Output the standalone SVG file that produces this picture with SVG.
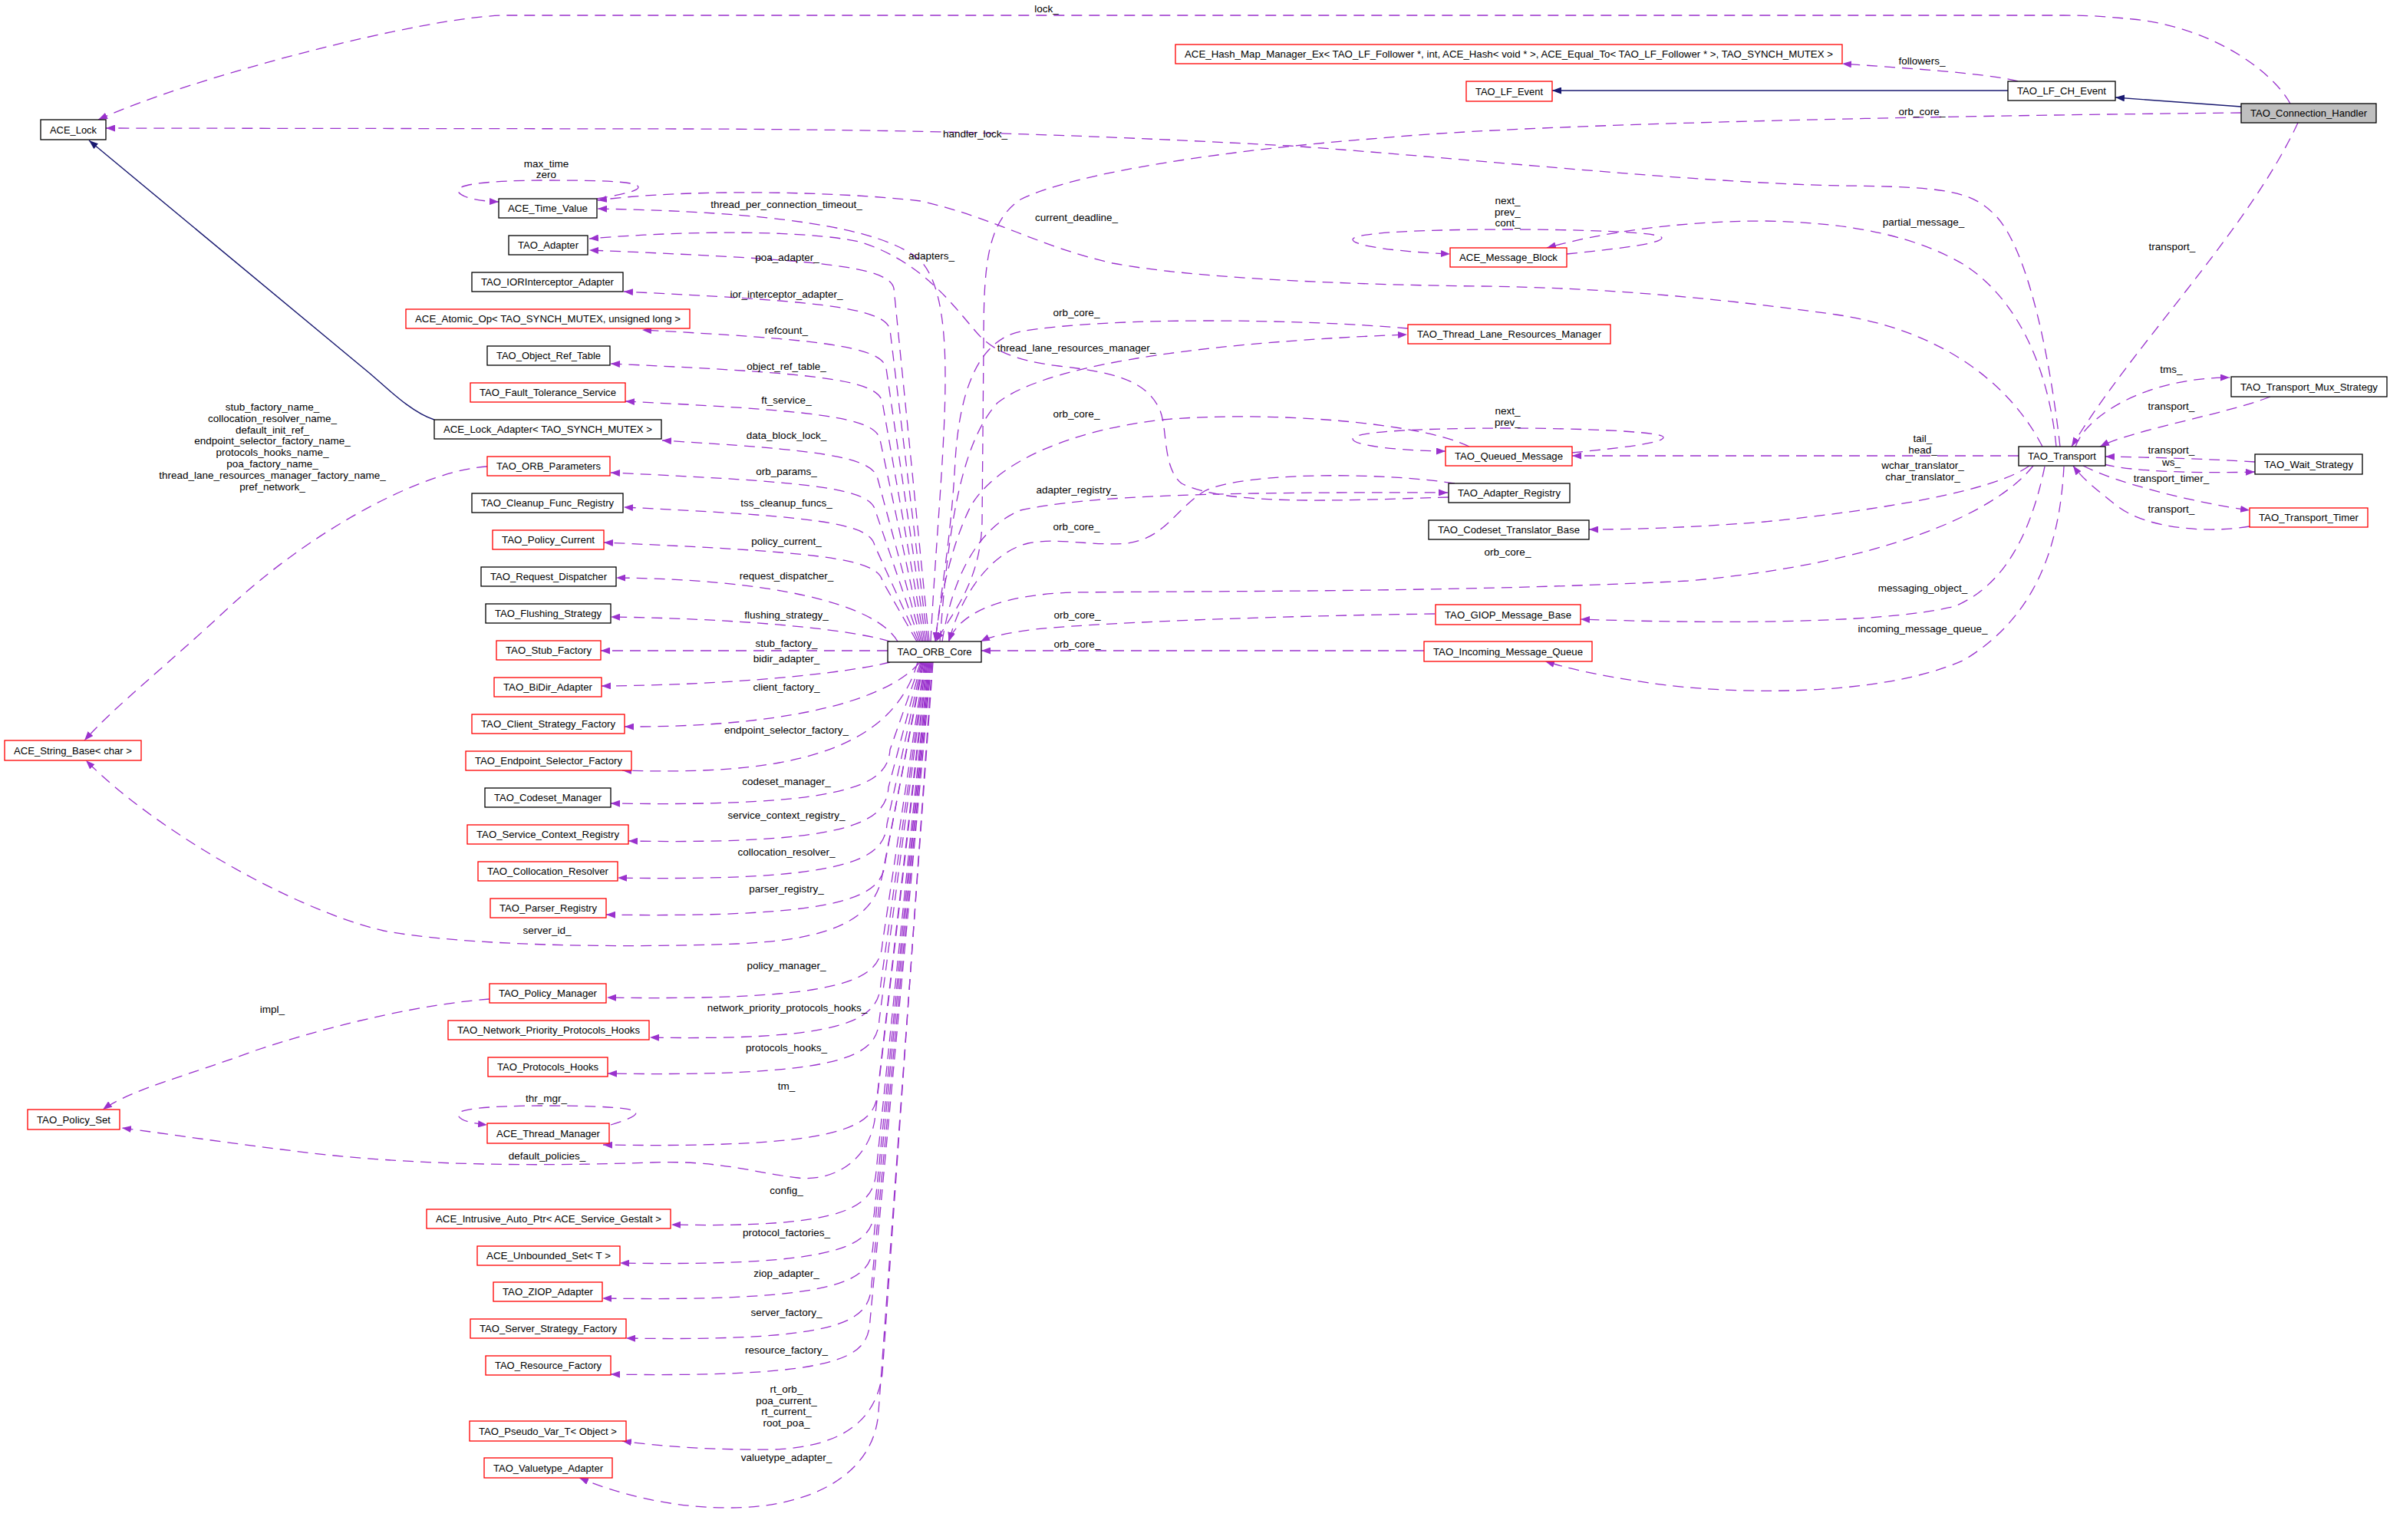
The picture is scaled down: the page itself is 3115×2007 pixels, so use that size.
<svg xmlns="http://www.w3.org/2000/svg" width="3115" height="2007" viewBox="0 0 3115 2007">
<style>
text{font-family:"Liberation Sans",Arial,sans-serif;font-size:13.5px;fill:#000}
.n rect{fill:#fff;stroke:#000;stroke-width:1.3}
.r rect{stroke:#f00}
.g rect{fill:#bfbfbf}
.n text,.l text{text-anchor:middle}
.e{fill:none;stroke:#9a32cd;stroke-width:1.3;stroke-dasharray:14,9;marker-end:url(#pa)}
.i{fill:none;stroke:#191970;stroke-width:1.4;marker-end:url(#ba)}
</style>
<defs>
<marker id="pa" viewBox="0 0 12 9" refX="12" refY="4.5" markerWidth="12" markerHeight="9" markerUnits="userSpaceOnUse" orient="auto"><path d="M0,0L12,4.5L0,9z" fill="#9a32cd"/></marker>
<marker id="ba" viewBox="0 0 12 9" refX="12" refY="4.5" markerWidth="12" markerHeight="9" markerUnits="userSpaceOnUse" orient="auto"><path d="M0,0L12,4.5L0,9z" fill="#191970"/></marker>
</defs>
<rect width="3115" height="2007" fill="#fff"/>
<g id="edges">
<path class="i" d="M2921,139 L2757,127"/>
<path class="i" d="M2617,118 L2023,118"/>
<path class="i" d="M566,547 C535,537 504,505 480,485 L116,183"/>
<path class="e" d="M2985,135 C2960,90 2880,35 2780,25 C2740,21 2720,20 2690,20 L660,20 C560,20 250,100 128,156"/>
<path class="e" d="M2630,106 C2590,95 2470,88 2401,83"/>
<path class="e" d="M2921,147 C2600,150 2000,160 1800,180 C1600,195 1400,225 1330,260 C1285,290 1282,350 1282,450 L1280,680 C1278,760 1240,800 1220,836"/>
<path class="e" d="M2995,160 C2930,300 2780,450 2700,582"/>
<path class="e" d="M2685,582 C2670,450 2640,320 2600,280 C2570,250 2540,243 2400,242 C2200,238 1900,205 1680,190 C1400,175 1200,169 900,168 L138,167"/>
<path class="e" d="M2662,582 C2620,500 2530,430 2393,410 C2250,390 2100,375 1929,373 C1750,371 1550,362 1450,343 C1350,320 1300,285 1200,262 C1100,250 900,245 779,261"/>
<path class="e" d="M2680,582 C2670,480 2630,390 2560,345 C2500,310 2420,290 2300,288 C2180,288 2080,305 2016,323"/>
<path class="e" d="M2631,594 L2049,594"/>
<path class="e" d="M2645,607 C2600,640 2450,665 2300,680 C2200,688 2120,690 2071,690"/>
<path class="e" d="M2650,607 C2600,670 2450,735 2200,757 C1900,772 1600,770 1400,772 C1300,775 1250,800 1236,836"/>
<path class="e" d="M2665,608 C2650,680 2620,760 2548,790 C2450,815 2200,812 2060,807"/>
<path class="e" d="M2690,608 C2685,700 2660,800 2560,860 C2450,910 2250,905 2150,890 C2080,880 2040,870 2014,862"/>
<path class="e" d="M2705,582 C2720,540 2800,492 2906,492"/>
<path class="e" d="M2959,517 C2900,540 2780,560 2737,582"/>
<path class="e" d="M2939,602 C2880,598 2800,596 2744,595"/>
<path class="e" d="M2742,605 C2780,615 2870,617 2939,615"/>
<path class="e" d="M2715,607 C2760,630 2860,655 2932,665"/>
<path class="e" d="M2932,686 C2880,695 2800,690 2760,660 C2735,640 2715,625 2702,607"/>
<path class="e" d="M1835,428 C1700,416 1450,412 1330,432 C1270,445 1250,520 1245,600 C1240,700 1225,780 1219,836"/>
<path class="e" d="M1225,836 C1235,700 1250,580 1300,525 C1370,470 1600,445 1834,436"/>
<path class="e" d="M1915,582 C1850,550 1650,535 1515,547 C1400,560 1300,600 1265,660 C1240,710 1225,780 1219,836"/>
<path class="e" d="M1228,836 C1240,760 1270,690 1330,665 C1420,645 1600,641 1887,642"/>
<path class="e" d="M1896,630 C1800,615 1620,615 1570,640 C1530,665 1520,700 1470,708 C1420,712 1380,700 1340,708 C1290,720 1250,780 1237,836"/>
<path class="e" d="M1888,648 C1750,652 1600,660 1540,630 C1515,610 1522,560 1512,535 C1495,495 1450,485 1380,477 C1320,470 1290,455 1270,430 C1240,395 1200,340 1120,315 C1050,300 900,300 768,311"/>
<path class="e" d="M1870,800 C1700,802 1450,810 1350,820 C1310,825 1290,830 1278,836"/>
<path class="e" d="M1856,848 L1279,848"/>
<path class="e" d="M778,259 C800,255 832,250 832,244 C832,236 780,235 712,235 C640,235 597,240 597,248 C597,256 620,262 650,263"/>
<path class="e" d="M2042,331 C2100,325 2166,318 2166,310 C2166,302 2050,299 1965,299 C1860,299 1763,303 1763,312 C1763,322 1840,329 1890,331"/>
<path class="e" d="M2049,590 C2100,585 2168,578 2168,570 C2168,562 2050,558 1965,558 C1860,558 1763,562 1763,572 C1763,582 1840,588 1884,588"/>
<path class="e" d="M796,1466 C815,1460 829,1455 829,1450 C829,1443 770,1441 712,1441 C640,1441 597,1445 597,1452 C597,1460 615,1464 635,1466"/>
<path class="e" d="M635,608 C560,612 420,680 300,790 C220,865 150,920 110,965"/>
<path class="e" d="M638,1302 C560,1308 450,1330 330,1370 C250,1400 170,1420 134,1446"/>
<path class="e" d="M1213,836 C1225,600 1255,400 1200,340 C1150,295 1000,276 779,272"/>
<path class="e" d="M1211,836 L1165,376 C1159,346 1060,338 768,326"/>
<path class="e" d="M1209,836 L1160,430 C1154,400 1060,392 813,380"/>
<path class="e" d="M1207,836 L1155,480 C1149,450 1060,442 837,430"/>
<path class="e" d="M1205,836 L1150,524 C1144,494 1060,486 796,474"/>
<path class="e" d="M1203,836 L1147,573 C1141,543 1060,535 815,523"/>
<path class="e" d="M1201,836 L1144,624 C1138,594 1060,586 863,574"/>
<path class="e" d="M1199,836 L1141,666 C1135,636 1060,628 796,616"/>
<path class="e" d="M1197,836 L1140,711 C1134,681 1060,673 813,661"/>
<path class="e" d="M1195,836 L1150,757 C1144,727 1060,719 787,707"/>
<path class="e" d="M1170,836 C1140,785 1000,755 803,753"/>
<path class="e" d="M1160,836 C1100,818 950,806 796,804"/>
<path class="e" d="M1157,848 L783,848"/>
<path class="e" d="M1160,863 C1100,878 950,893 784,894"/>
<path class="e" d="M1199,863 C1150,920 1000,948 814,947"/>
<path class="e" d="M1196,863 C1160,990 1000,1010 811,1004"/>
<path class="e" d="M1200,863 L1160,977 C1157,1022 1110,1052 796,1047"/>
<path class="e" d="M1201,863 L1158,1026 C1155,1071 1110,1101 819,1096"/>
<path class="e" d="M1202,863 L1156,1074 C1153,1119 1110,1149 805,1144"/>
<path class="e" d="M1203,863 L1154,1122 C1151,1167 1110,1197 790,1192"/>
<path class="e" d="M1204,863 L1150,1140 C1140,1200 1080,1225 960,1230 C800,1236 600,1232 500,1213 C380,1185 200,1080 112,991"/>
<path class="e" d="M1205,863 L1150,1230 C1147,1275 1110,1305 791,1300"/>
<path class="e" d="M1206,863 L1148,1282 C1145,1327 1110,1357 847,1352"/>
<path class="e" d="M1207,863 L1146,1329 C1143,1374 1110,1404 792,1399"/>
<path class="e" d="M1208,863 L1144,1422 C1141,1467 1110,1497 786,1492"/>
<path class="e" d="M1209,863 L1140,1460 C1132,1510 1090,1540 1040,1535 C980,1528 940,1512 850,1515 C650,1522 500,1515 383,1500 C300,1490 220,1478 159,1470"/>
<path class="e" d="M1210,863 L1142,1526 C1139,1571 1110,1601 875,1596"/>
<path class="e" d="M1211,863 L1140,1576 C1137,1621 1110,1651 808,1646"/>
<path class="e" d="M1212,863 L1138,1622 C1135,1667 1110,1697 785,1692"/>
<path class="e" d="M1213,863 L1136,1674 C1133,1719 1110,1749 816,1744"/>
<path class="e" d="M1214,863 L1134,1721 C1131,1766 1110,1796 796,1791"/>
<path class="e" d="M1215,863 L1150,1790 C1142,1850 1100,1885 1010,1889 C930,1890 860,1885 811,1878"/>
<path class="e" d="M1216,863 L1145,1840 C1140,1920 1060,1965 950,1965 C870,1965 800,1945 755,1926"/>
</g>
<g id="edge-labels" class="l">
<text x="1364" y="16">lock_</text>
<text x="2505" y="84">followers_</text>
<text x="2505" y="150">orb_core_</text>
<text x="1271" y="179">handler_lock_</text>
<text x="712" y="218">max_time</text>
<text x="712" y="232">zero</text>
<text x="1025" y="271">thread_per_connection_timeout_</text>
<text x="1403" y="288">current_deadline_</text>
<text x="2507" y="294">partial_message_</text>
<text x="1965" y="266">next_</text>
<text x="1965" y="281">prev_</text>
<text x="1965" y="295">cont_</text>
<text x="2831" y="326">transport_</text>
<text x="1026" y="340">poa_adapter_</text>
<text x="1214" y="338">adapters_</text>
<text x="1025" y="388">ior_interceptor_adapter_</text>
<text x="1403" y="412">orb_core_</text>
<text x="1025" y="435">refcount_</text>
<text x="1403" y="458">thread_lane_resources_manager_</text>
<text x="1025" y="482">object_ref_table_</text>
<text x="2830" y="486">tms_</text>
<text x="1025" y="526">ft_service_</text>
<text x="2830" y="534">transport_</text>
<text x="1965" y="540">next_</text>
<text x="1965" y="555">prev_</text>
<text x="1403" y="544">orb_core_</text>
<text x="1025" y="572">data_block_lock_</text>
<text x="2506" y="576">tail_</text>
<text x="2506" y="591">head_</text>
<text x="2830" y="591">transport_</text>
<text x="2830" y="607">ws_</text>
<text x="2506" y="611">wchar_translator_</text>
<text x="2506" y="626">char_translator_</text>
<text x="1025" y="619">orb_params_</text>
<text x="2830" y="628">transport_timer_</text>
<text x="1403" y="643">adapter_registry_</text>
<text x="1025" y="660">tss_cleanup_funcs_</text>
<text x="2830" y="668">transport_</text>
<text x="1403" y="691">orb_core_</text>
<text x="1025" y="710">policy_current_</text>
<text x="1965" y="724">orb_core_</text>
<text x="1025" y="755">request_dispatcher_</text>
<text x="2506" y="771">messaging_object_</text>
<text x="1404" y="806">orb_core_</text>
<text x="1025" y="806">flushing_strategy_</text>
<text x="2506" y="824">incoming_message_queue_</text>
<text x="1025" y="843">stub_factory_</text>
<text x="1404" y="844">orb_core_</text>
<text x="1025" y="863">bidir_adapter_</text>
<text x="1025" y="900">client_factory_</text>
<text x="1025" y="956">endpoint_selector_factory_</text>
<text x="1025" y="1023">codeset_manager_</text>
<text x="1025" y="1067">service_context_registry_</text>
<text x="1025" y="1115">collocation_resolver_</text>
<text x="1025" y="1163">parser_registry_</text>
<text x="713" y="1217">server_id_</text>
<text x="1025" y="1263">policy_manager_</text>
<text x="1026" y="1318">network_priority_protocols_hooks_</text>
<text x="355" y="1320">impl_</text>
<text x="1025" y="1370">protocols_hooks_</text>
<text x="1025" y="1420">tm_</text>
<text x="712" y="1436">thr_mgr_</text>
<text x="713" y="1511">default_policies_</text>
<text x="1025" y="1556">config_</text>
<text x="1025" y="1611">protocol_factories_</text>
<text x="1025" y="1664">ziop_adapter_</text>
<text x="1025" y="1715">server_factory_</text>
<text x="1025" y="1764">resource_factory_</text>
<text x="1025" y="1815">rt_orb_</text>
<text x="1025" y="1830">poa_current_</text>
<text x="1025" y="1844">rt_current_</text>
<text x="1025" y="1859">root_poa_</text>
<text x="1025" y="1904">valuetype_adapter_</text>
<text x="355" y="535">stub_factory_name_<tspan x="355" dy="14.8">collocation_resolver_name_</tspan><tspan x="355" dy="14.8">default_init_ref_</tspan><tspan x="355" dy="14.8">endpoint_selector_factory_name_</tspan><tspan x="355" dy="14.8">protocols_hooks_name_</tspan><tspan x="355" dy="14.8">poa_factory_name_</tspan><tspan x="355" dy="14.8">thread_lane_resources_manager_factory_name_</tspan><tspan x="355" dy="14.8">pref_network_</tspan></text>
</g>
<g id="TAO_Connection_Handler" class="n g"><rect x="2921" y="135" width="176" height="25"/><text x="3009" y="152" textLength="152" lengthAdjust="spacingAndGlyphs">TAO_Connection_Handler</text></g>
<g id="TAO_LF_CH_Event" class="n"><rect x="2617" y="106" width="140" height="25"/><text x="2687" y="123" textLength="116" lengthAdjust="spacingAndGlyphs">TAO_LF_CH_Event</text></g>
<g id="TAO_LF_Event" class="n r"><rect x="1911" y="106" width="112" height="26"/><text x="1967" y="123.5" textLength="88" lengthAdjust="spacingAndGlyphs">TAO_LF_Event</text></g>
<g id="ACE_Hash_Map_Manager_Ex" class="n r"><rect x="1532" y="58" width="869" height="25"/><text x="1966.5" y="75" textLength="845" lengthAdjust="spacingAndGlyphs">ACE_Hash_Map_Manager_Ex&lt; TAO_LF_Follower *, int, ACE_Hash&lt; void * &gt;, ACE_Equal_To&lt; TAO_LF_Follower * &gt;, TAO_SYNCH_MUTEX &gt;</text></g>
<g id="ACE_Lock" class="n"><rect x="53" y="156" width="85" height="26"/><text x="95.5" y="173.5" textLength="61" lengthAdjust="spacingAndGlyphs">ACE_Lock</text></g>
<g id="ACE_Time_Value" class="n"><rect x="650" y="259" width="128" height="25"/><text x="714" y="276" textLength="104" lengthAdjust="spacingAndGlyphs">ACE_Time_Value</text></g>
<g id="TAO_Adapter" class="n"><rect x="663" y="307" width="103" height="25"/><text x="714.5" y="324" textLength="79" lengthAdjust="spacingAndGlyphs">TAO_Adapter</text></g>
<g id="TAO_IORInterceptor_Adapter" class="n"><rect x="615" y="355" width="197" height="25"/><text x="713.5" y="372" textLength="173" lengthAdjust="spacingAndGlyphs">TAO_IORInterceptor_Adapter</text></g>
<g id="ACE_Atomic_Op" class="n r"><rect x="529" y="403" width="370" height="25"/><text x="714" y="420" textLength="346" lengthAdjust="spacingAndGlyphs">ACE_Atomic_Op&lt; TAO_SYNCH_MUTEX, unsigned long &gt;</text></g>
<g id="TAO_Object_Ref_Table" class="n"><rect x="635" y="451" width="160" height="25"/><text x="715" y="468" textLength="136" lengthAdjust="spacingAndGlyphs">TAO_Object_Ref_Table</text></g>
<g id="TAO_Fault_Tolerance_Service" class="n r"><rect x="613" y="499" width="202" height="25"/><text x="714" y="516" textLength="178" lengthAdjust="spacingAndGlyphs">TAO_Fault_Tolerance_Service</text></g>
<g id="ACE_Lock_Adapter" class="n"><rect x="566" y="547" width="296" height="25"/><text x="714" y="564" textLength="272" lengthAdjust="spacingAndGlyphs">ACE_Lock_Adapter&lt; TAO_SYNCH_MUTEX &gt;</text></g>
<g id="TAO_ORB_Parameters" class="n r"><rect x="635" y="595" width="160" height="25"/><text x="715" y="612" textLength="136" lengthAdjust="spacingAndGlyphs">TAO_ORB_Parameters</text></g>
<g id="TAO_Cleanup_Func_Registry" class="n"><rect x="615" y="643" width="197" height="25"/><text x="713.5" y="660" textLength="173" lengthAdjust="spacingAndGlyphs">TAO_Cleanup_Func_Registry</text></g>
<g id="TAO_Policy_Current" class="n r"><rect x="642" y="691" width="145" height="25"/><text x="714.5" y="708" textLength="121" lengthAdjust="spacingAndGlyphs">TAO_Policy_Current</text></g>
<g id="TAO_Request_Dispatcher" class="n"><rect x="627" y="739" width="176" height="25"/><text x="715" y="756" textLength="152" lengthAdjust="spacingAndGlyphs">TAO_Request_Dispatcher</text></g>
<g id="TAO_Flushing_Strategy" class="n"><rect x="633" y="787" width="163" height="25"/><text x="714.5" y="804" textLength="139" lengthAdjust="spacingAndGlyphs">TAO_Flushing_Strategy</text></g>
<g id="TAO_Stub_Factory" class="n r"><rect x="647" y="835" width="136" height="25"/><text x="715" y="852" textLength="112" lengthAdjust="spacingAndGlyphs">TAO_Stub_Factory</text></g>
<g id="TAO_BiDir_Adapter" class="n r"><rect x="644" y="883" width="140" height="25"/><text x="714" y="900" textLength="116" lengthAdjust="spacingAndGlyphs">TAO_BiDir_Adapter</text></g>
<g id="TAO_Client_Strategy_Factory" class="n r"><rect x="615" y="931" width="199" height="25"/><text x="714.5" y="948" textLength="175" lengthAdjust="spacingAndGlyphs">TAO_Client_Strategy_Factory</text></g>
<g id="TAO_Endpoint_Selector_Factory" class="n r"><rect x="607" y="979" width="216" height="25"/><text x="715" y="996" textLength="192" lengthAdjust="spacingAndGlyphs">TAO_Endpoint_Selector_Factory</text></g>
<g id="TAO_Codeset_Manager" class="n"><rect x="632" y="1027" width="164" height="25"/><text x="714" y="1044" textLength="140" lengthAdjust="spacingAndGlyphs">TAO_Codeset_Manager</text></g>
<g id="TAO_Service_Context_Registry" class="n r"><rect x="609" y="1075" width="210" height="25"/><text x="714" y="1092" textLength="186" lengthAdjust="spacingAndGlyphs">TAO_Service_Context_Registry</text></g>
<g id="TAO_Collocation_Resolver" class="n r"><rect x="623" y="1123" width="182" height="25"/><text x="714" y="1140" textLength="158" lengthAdjust="spacingAndGlyphs">TAO_Collocation_Resolver</text></g>
<g id="TAO_Parser_Registry" class="n r"><rect x="639" y="1171" width="151" height="25"/><text x="714.5" y="1188" textLength="127" lengthAdjust="spacingAndGlyphs">TAO_Parser_Registry</text></g>
<g id="TAO_Policy_Manager" class="n r"><rect x="638" y="1282" width="152" height="25"/><text x="714" y="1299" textLength="128" lengthAdjust="spacingAndGlyphs">TAO_Policy_Manager</text></g>
<g id="TAO_Network_Priority_Protocols_Hooks" class="n r"><rect x="584" y="1330" width="262" height="25"/><text x="715" y="1347" textLength="238" lengthAdjust="spacingAndGlyphs">TAO_Network_Priority_Protocols_Hooks</text></g>
<g id="TAO_Protocols_Hooks" class="n r"><rect x="636" y="1378" width="156" height="25"/><text x="714" y="1395" textLength="132" lengthAdjust="spacingAndGlyphs">TAO_Protocols_Hooks</text></g>
<g id="ACE_Thread_Manager" class="n r"><rect x="635" y="1464" width="159" height="26"/><text x="714.5" y="1481.5" textLength="135" lengthAdjust="spacingAndGlyphs">ACE_Thread_Manager</text></g>
<g id="ACE_Intrusive_Auto_Ptr" class="n r"><rect x="556" y="1576" width="318" height="25"/><text x="715" y="1593" textLength="294" lengthAdjust="spacingAndGlyphs">ACE_Intrusive_Auto_Ptr&lt; ACE_Service_Gestalt &gt;</text></g>
<g id="ACE_Unbounded_Set" class="n r"><rect x="622" y="1624" width="186" height="25"/><text x="715" y="1641" textLength="162" lengthAdjust="spacingAndGlyphs">ACE_Unbounded_Set&lt; T &gt;</text></g>
<g id="TAO_ZIOP_Adapter" class="n r"><rect x="643" y="1671" width="142" height="25"/><text x="714" y="1688" textLength="118" lengthAdjust="spacingAndGlyphs">TAO_ZIOP_Adapter</text></g>
<g id="TAO_Server_Strategy_Factory" class="n r"><rect x="613" y="1719" width="203" height="25"/><text x="714.5" y="1736" textLength="179" lengthAdjust="spacingAndGlyphs">TAO_Server_Strategy_Factory</text></g>
<g id="TAO_Resource_Factory" class="n r"><rect x="633" y="1767" width="163" height="25"/><text x="714.5" y="1784" textLength="139" lengthAdjust="spacingAndGlyphs">TAO_Resource_Factory</text></g>
<g id="TAO_Pseudo_Var_T" class="n r"><rect x="612" y="1852" width="204" height="26"/><text x="714" y="1869.5" textLength="180" lengthAdjust="spacingAndGlyphs">TAO_Pseudo_Var_T&lt; Object &gt;</text></g>
<g id="TAO_Valuetype_Adapter" class="n r"><rect x="631" y="1900" width="167" height="26"/><text x="714.5" y="1917.5" textLength="143" lengthAdjust="spacingAndGlyphs">TAO_Valuetype_Adapter</text></g>
<g id="ACE_String_Base" class="n r"><rect x="6" y="965" width="178" height="26"/><text x="95" y="982.5" textLength="154" lengthAdjust="spacingAndGlyphs">ACE_String_Base&lt; char &gt;</text></g>
<g id="TAO_Policy_Set" class="n r"><rect x="36" y="1446" width="120" height="26"/><text x="96" y="1463.5" textLength="96" lengthAdjust="spacingAndGlyphs">TAO_Policy_Set</text></g>
<g id="TAO_ORB_Core" class="n"><rect x="1157" y="836" width="122" height="27"/><text x="1218" y="854" textLength="97" lengthAdjust="spacingAndGlyphs">TAO_ORB_Core</text></g>
<g id="TAO_Thread_Lane_Resources_Manager" class="n r"><rect x="1835" y="423" width="264" height="25"/><text x="1967" y="440" textLength="240" lengthAdjust="spacingAndGlyphs">TAO_Thread_Lane_Resources_Manager</text></g>
<g id="ACE_Message_Block" class="n r"><rect x="1890" y="323" width="152" height="25"/><text x="1966" y="340" textLength="128" lengthAdjust="spacingAndGlyphs">ACE_Message_Block</text></g>
<g id="TAO_Queued_Message" class="n r"><rect x="1884" y="582" width="165" height="25"/><text x="1966.5" y="599" textLength="141" lengthAdjust="spacingAndGlyphs">TAO_Queued_Message</text></g>
<g id="TAO_Adapter_Registry" class="n"><rect x="1888" y="630" width="158" height="25"/><text x="1967" y="647" textLength="134" lengthAdjust="spacingAndGlyphs">TAO_Adapter_Registry</text></g>
<g id="TAO_Codeset_Translator_Base" class="n"><rect x="1862" y="678" width="209" height="25"/><text x="1966.5" y="695" textLength="185" lengthAdjust="spacingAndGlyphs">TAO_Codeset_Translator_Base</text></g>
<g id="TAO_GIOP_Message_Base" class="n r"><rect x="1871" y="788" width="189" height="26"/><text x="1965.5" y="805.5" textLength="165" lengthAdjust="spacingAndGlyphs">TAO_GIOP_Message_Base</text></g>
<g id="TAO_Incoming_Message_Queue" class="n r"><rect x="1856" y="836" width="219" height="26"/><text x="1965.5" y="853.5" textLength="195" lengthAdjust="spacingAndGlyphs">TAO_Incoming_Message_Queue</text></g>
<g id="TAO_Transport" class="n"><rect x="2631" y="582" width="113" height="25"/><text x="2687.5" y="599" textLength="89" lengthAdjust="spacingAndGlyphs">TAO_Transport</text></g>
<g id="TAO_Transport_Mux_Strategy" class="n"><rect x="2908" y="491" width="203" height="26"/><text x="3009.5" y="508.5" textLength="179" lengthAdjust="spacingAndGlyphs">TAO_Transport_Mux_Strategy</text></g>
<g id="TAO_Wait_Strategy" class="n"><rect x="2939" y="592" width="140" height="26"/><text x="3009" y="609.5" textLength="116" lengthAdjust="spacingAndGlyphs">TAO_Wait_Strategy</text></g>
<g id="TAO_Transport_Timer" class="n r"><rect x="2932" y="662" width="154" height="25"/><text x="3009" y="679" textLength="130" lengthAdjust="spacingAndGlyphs">TAO_Transport_Timer</text></g>
</svg>
